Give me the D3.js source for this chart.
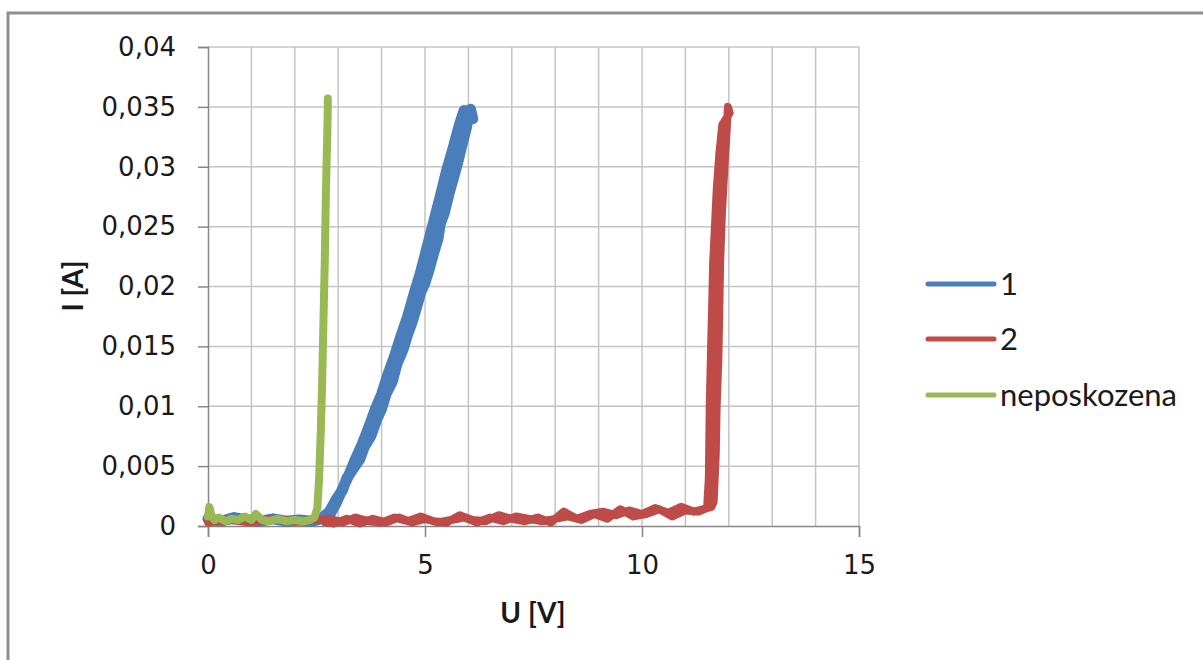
<!DOCTYPE html>
<html>
<head>
<meta charset="utf-8">
<script src="https://cdn.jsdelivr.net/npm/d3@7"></script>
<style>
  body { margin: 0; background: #fff; }
  svg { display: block; }
</style>
</head>
<body>
<div id="chart"></div>
<script>
// data (U in V, I in A)
var seriesNames = ["1", "2", "neposkozena"];
var seriesColors = ["#4a7ebb", "#be4b48", "#98b954"];

var u1 = [0, 0.3, 0.6, 0.9, 1.2, 1.5, 1.8, 2.1, 2.4, 2.6, 2.8, 2.95, 3.1, 3.2, 3.35, 3.5, 3.6, 3.75, 3.9, 4.0, 4.1, 4.25, 4.35, 4.5, 4.6, 4.7, 4.8, 4.9, 5.0, 5.1, 5.2, 5.3, 5.35, 5.45, 5.55, 5.65, 5.75, 5.85, 5.95, 6.0, 6.05, 6.1,
          5.9, 5.8, 5.65, 5.5, 5.35, 5.2, 5.05, 4.9, 4.75, 4.6, 4.45, 4.3, 4.15, 4.0, 3.85, 3.7, 3.55, 3.4, 3.25, 3.1, 2.95, 2.8, 2.7];
var i1 = [0.0006, 0.0004, 0.0007, 0.0005, 0.0004, 0.0006, 0.0004, 0.0005, 0.0004, 0.0006, 0.0012, 0.0022, 0.0030, 0.0040, 0.0048, 0.0056, 0.0066, 0.0075, 0.0090, 0.0098, 0.0110, 0.0121, 0.0135, 0.0148, 0.0160, 0.0170, 0.0182, 0.0195, 0.0203, 0.0215, 0.0228, 0.0240, 0.0252, 0.0262, 0.0277, 0.0290, 0.0303, 0.0318, 0.0332, 0.0343, 0.0348, 0.0340,
          0.0347, 0.0336, 0.0316, 0.0297, 0.0275, 0.0254, 0.0233, 0.0212, 0.0194, 0.0175, 0.0159, 0.0142, 0.0127, 0.0110, 0.0097, 0.0082, 0.0068, 0.0056, 0.0043, 0.0031, 0.0019, 0.0009, 0.0005];

var u2 = [0, 0.5, 1.0, 1.5, 2.0, 2.5, 2.8, 3.1, 3.4, 3.7, 4.0, 4.3, 4.6, 4.9, 5.2, 5.5, 5.8, 6.1, 6.4, 6.7, 7.0, 7.3, 7.6, 7.9, 8.2, 8.5, 8.8, 9.1, 9.4, 9.7, 10.0, 10.3, 10.6, 10.9, 11.2, 11.5, 11.6,
          11.65, 11.7, 11.72, 11.76, 11.78, 11.8, 11.84, 11.9, 11.95, 11.98, 12.02,
          11.85, 11.78, 11.72, 11.68, 11.64, 11.62, 11.6, 11.58, 11.56, 11.55, 11.54, 11.5,
          11.3, 11.0, 10.7, 10.4, 10.1, 9.8, 9.5, 9.2, 8.9, 8.6, 8.3, 8.0, 7.7, 7.4, 7.1, 6.8, 6.5, 6.2, 5.9, 5.6, 5.3, 5.0, 4.7, 4.4, 4.1, 3.8, 3.5, 3.2, 2.9, 2.7];
var i2 = [0.0003, 0.0005, 0.0003, 0.0006, 0.0004, 0.0005, 0.0006, 0.0003, 0.0007, 0.0004, 0.0003, 0.0007, 0.0004, 0.0008, 0.0004, 0.0003, 0.0009, 0.0005, 0.0004, 0.0009, 0.0006, 0.0004, 0.0007, 0.0003, 0.0012, 0.0006, 0.0010, 0.0012, 0.0009, 0.0013, 0.0010, 0.0015, 0.0011, 0.0016, 0.0012, 0.0015, 0.0016,
          0.002, 0.006, 0.010, 0.014, 0.018, 0.022, 0.026, 0.030, 0.033, 0.035, 0.0345,
          0.0335, 0.031, 0.028, 0.025, 0.022, 0.019, 0.016, 0.013, 0.010, 0.007, 0.004, 0.0015,
          0.0012, 0.0013, 0.0008, 0.0014, 0.0010, 0.0008, 0.0014, 0.0006, 0.0010, 0.0005, 0.0008, 0.0006, 0.0004, 0.0006, 0.0008, 0.0004, 0.0007, 0.0003, 0.0007, 0.0005, 0.0003, 0.0006, 0.0003, 0.0007, 0.0003, 0.0006, 0.0002, 0.0006, 0.0002, 0.0003];

var u3 = [0, 0.03, 0.08, 0.15, 0.25, 0.4, 0.55, 0.7, 0.85, 1.0, 1.1, 1.25, 1.4, 1.6, 1.8, 2.0, 2.2, 2.35, 2.45, 2.52, 2.56, 2.6, 2.63, 2.66, 2.69, 2.71, 2.73, 2.75, 2.76, 2.76];
var i3 = [0.0008, 0.0016, 0.0009, 0.0005, 0.0007, 0.0004, 0.0006, 0.0005, 0.0008, 0.0005, 0.0010, 0.0005, 0.0004, 0.0006, 0.0004, 0.0005, 0.0004, 0.0005, 0.0007, 0.0015, 0.0040, 0.0080, 0.0120, 0.0170, 0.0220, 0.0265, 0.0300, 0.0330, 0.0350, 0.0357];

var xTicks = [0, 5, 10, 15];
var yTicks = [0, 0.005, 0.01, 0.015, 0.02, 0.025, 0.03, 0.035, 0.04];
var xGrid = d3.range(1, 16);

// layout
var w = 1203, h = 660;
var pLeft = 208, pRight = 859, pTop = 47, pBottom = 526;

var svg = d3.select("#chart").append("svg")
  .attr("width", w)
  .attr("height", h);

// outer frame
svg.append("rect")
  .attr("x", 8).attr("y", 13)
  .attr("width", 1300).attr("height", 700)
  .attr("fill", "#fff")
  .attr("stroke", "#8f8f8f")
  .attr("stroke-width", 3);

var x = d3.scaleLinear().domain([0, 15]).range([pLeft, pRight]);
var y = d3.scaleLinear().domain([0, 0.04]).range([pBottom, pTop]);

// grid
svg.append("g").selectAll("line").data(xGrid).enter().append("line")
  .attr("x1", d => x(d)).attr("x2", d => x(d))
  .attr("y1", pTop).attr("y2", pBottom)
  .attr("stroke", "#c4c4c4").attr("stroke-width", 1.5);
svg.append("g").selectAll("line").data(yTicks.slice(1)).enter().append("line")
  .attr("x1", pLeft).attr("x2", pRight)
  .attr("y1", d => y(d)).attr("y2", d => y(d))
  .attr("stroke", "#c4c4c4").attr("stroke-width", 1.5);

var fmt = d => String(+d.toFixed(3)).replace(".", ",");

// axes
var yAxis = svg.append("g")
  .attr("transform", "translate(" + pLeft + ",0)")
  .call(d3.axisLeft(y).tickValues(yTicks).tickSize(10).tickPadding(22).tickFormat(fmt));
var xAxis = svg.append("g")
  .attr("transform", "translate(0," + pBottom + ")")
  .call(d3.axisBottom(x).tickValues(xTicks).tickSize(11).tickPadding(19).tickFormat(fmt));

[yAxis, xAxis].forEach(function(a) {
  a.select(".domain").attr("stroke", "#868686").attr("stroke-width", 1.5);
  a.selectAll(".tick line").attr("stroke", "#868686").attr("stroke-width", 1.5);
  a.selectAll("text")
    .attr("fill", "#1a1a1a")
    .attr("font-family", "DejaVu Sans, Verdana, sans-serif")
    .attr("font-size", "26px");
});

// series
var line = d3.line().x(d => x(d[0])).y(d => y(d[1]));
var pairs = [d3.zip(u1, i1), d3.zip(u2, i2), d3.zip(u3, i3)];
var widths = [11, 8, 8];

pairs.forEach(function(p, k) {
  svg.append("path")
    .datum(p)
    .attr("d", line)
    .attr("fill", "none")
    .attr("stroke", seriesColors[k])
    .attr("stroke-width", widths[k])
    .attr("stroke-linejoin", "round")
    .attr("stroke-linecap", "round");
});

// axis titles
svg.append("text")
  .attr("x", 533).attr("y", 623)
  .attr("text-anchor", "middle")
  .attr("font-family", "Lato, sans-serif")
  .attr("font-weight", "bold")
  .attr("font-size", "28px")
  .attr("fill", "#1a1a1a")
  .text("U [V]");
svg.append("text")
  .attr("transform", "translate(83,286) rotate(-90)")
  .attr("text-anchor", "middle")
  .attr("font-family", "Lato, sans-serif")
  .attr("font-weight", "bold")
  .attr("font-size", "28px")
  .attr("fill", "#1a1a1a")
  .text("I [A]");

// legend
var legendY = [284, 339, 395];
var legend = svg.append("g").selectAll("g").data(seriesNames).enter().append("g")
  .attr("transform", (d, k) => "translate(0," + legendY[k] + ")");
legend.append("line")
  .attr("x1", 928).attr("x2", 994)
  .attr("stroke", (d, k) => seriesColors[k])
  .attr("stroke-width", 5)
  .attr("stroke-linecap", "round");
legend.append("text")
  .attr("x", 1000).attr("dy", "0.35em")
  .attr("font-family", "Lato, sans-serif")
  .attr("font-size", "31px")
  .attr("fill", "#1a1a1a")
  .text(d => d);
</script>
</body>
</html>
